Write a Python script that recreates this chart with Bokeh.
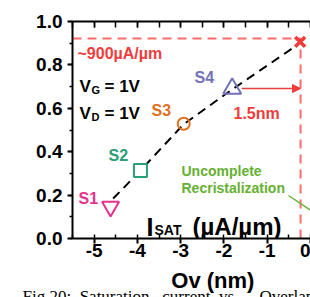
from bokeh.plotting import figure
from bokeh.models import (Label, Arrow, NormalHead, LinearAxis, SingleIntervalTicker,
                          Range1d, NumeralTickFormatter, CustomJSTickFormatter, Title)
from bokeh.embed import file_html
from bokeh.resources import INLINE

# ---- data ----
samples = ["S1", "S2", "S3", "S4"]
ov_nm = [-4.62, -3.93, -2.93, -1.81]
isat = [0.147, 0.313, 0.529, 0.691]
sample_colors = ["#e5338c", "#2a9e78", "#e0701e", "#7272bb"]
sample_markers = ["inverted_triangle", "square", "circle", "triangle"]
target_ov = [-0.24]
target_isat = [0.906]
trend_ov = [-4.56, -3.93, -2.94, -1.81, -0.42]
trend_isat = [0.184, 0.313, 0.525, 0.687, 0.876]
target_level = 0.922
target_ov_line = -0.23
x_ticks_interval = 1
y_ticks_interval = 0.2
NB = "\u00a0"
caption = ("Fig 20:" + NB * 2 + "Saturation" + NB * 3 + "current" + NB * 2 + "vs."
           + NB * 5 + "Overlap")

RED = "#f03c3c"
LRED = "#ff6b6b"
GREEN = "#66b032"
FONT = "Liberation Sans"

X0, X1 = -5.5, 0.0
# reference picture geometry, used to place annotations in data units
RX0, RX1, RY_TOP, RY_BOT = 72, 310, 21, 238


def px2x(px):
    return X0 + (px - RX0) * (X1 - X0) / (RX1 - RX0)


def px2y(py):
    return (RY_BOT - py) / (RY_BOT - RY_TOP)


p = figure(width=310, height=297, output_backend="svg", toolbar_location=None,
           x_range=Range1d(X0, X1), y_range=Range1d(0, 1.0),
           min_border_left=72, min_border_top=21, min_border_bottom=59,
           min_border_right=0)
p.outline_line_color = None
p.xgrid.visible = False
p.ygrid.visible = False
p.background_fill_color = "white"
p.border_fill_color = "white"

for ax in (p.xaxis[0], p.yaxis[0]):
    ax.axis_line_width = 2
    ax.major_tick_line_width = 2
    ax.minor_tick_line_width = 1.5
    ax.major_label_text_font = FONT
    ax.major_label_text_font_style = "bold"
    ax.major_label_text_font_size = "19px"
    ax.major_label_text_color = "black"

xa = p.xaxis[0]
xa.ticker = SingleIntervalTicker(interval=x_ticks_interval, num_minor_ticks=2)
xa.formatter = NumeralTickFormatter(format="0")
xa.major_tick_out = 5
xa.major_tick_in = 0
xa.minor_tick_out = 0
xa.minor_tick_in = 4
xa.major_label_standoff = 0
xa.axis_label = NB * 7 + "Ov (nm)"
xa.axis_label_text_font = FONT
xa.axis_label_text_font_style = "bold"
xa.axis_label_text_font_size = "22px"
xa.axis_label_text_color = "black"
xa.axis_label_standoff = 8

ya = p.yaxis[0]
ya.ticker = SingleIntervalTicker(interval=y_ticks_interval, num_minor_ticks=2)
ya.formatter = NumeralTickFormatter(format="0.0")
ya.major_tick_out = 5
ya.major_tick_in = 0
ya.minor_tick_out = 3
ya.minor_tick_in = 0
ya.major_label_standoff = 5

top = LinearAxis(ticker=SingleIntervalTicker(interval=x_ticks_interval, num_minor_ticks=2),
                 formatter=CustomJSTickFormatter(code="return ''"),
                 axis_line_width=2,
                 major_tick_in=6, major_tick_out=0, minor_tick_in=6, minor_tick_out=0,
                 major_tick_line_width=1.5, minor_tick_line_width=1.5)
p.add_layout(top, "above")

p.add_layout(Title(text=caption, align="left", offset=-50, standoff=-21,
                   text_font="Liberation Serif", text_font_style="normal",
                   text_font_size="17px", text_color="black"), "below")

# red target lines
p.line([X0, target_ov_line], [target_level, target_level], line_color=LRED,
       line_width=2, line_dash="9 6")
p.line([target_ov_line, target_ov_line], [0, target_level], line_color=LRED,
       line_width=2, line_dash="9 6")

# trend line
p.line(trend_ov, trend_isat, line_color="black", line_width=2, line_dash="9 6")

# green leader line
p.line([px2x(288), px2x(318)], [px2y(195), px2y(215)], line_color=GREEN, line_width=1.5)

# samples
for xv, yv, c, m in zip(ov_nm, isat, sample_colors, sample_markers):
    fill = "white" if m == "square" else None
    size = {"inverted_triangle": 17, "triangle": 18, "square": 13, "circle": 12}[m]
    p.scatter([xv], [yv], marker=m, size=size, line_color=c, line_width=2,
              fill_color=fill)

p.scatter(target_ov, target_isat, marker="x", size=14, line_color=RED, line_width=3.5)

# arrow 1.5nm
p.add_layout(Arrow(end=NormalHead(size=8, fill_color=RED, line_color=RED),
                   x_start=ov_nm[3] + 0.22, y_start=isat[3], x_end=target_ov_line,
                   y_end=isat[3], line_color=RED, line_width=1.5))


def lab(text, px, py, size, color="black", style="bold", align="left",
        baseline="middle", font=FONT):
    p.add_layout(Label(x=px2x(px), y=px2y(py), text=text, text_font=font,
                       text_font_size=f"{size}px", text_font_style=style,
                       text_color=color, text_align=align, text_baseline=baseline))


lab("~900\u00b5A/\u00b5m", 77, 53, 16, RED)
lab("V", 79, 86, 17, baseline="alphabetic")
lab("G", 91, 89, 11, baseline="alphabetic")
lab("= 1V", 104, 86, 17, baseline="alphabetic")
lab("V", 79, 113, 17, baseline="alphabetic")
lab("D", 91, 116, 11, baseline="alphabetic")
lab("= 1V", 104, 113, 17, baseline="alphabetic")

lab("S1", 78, 198, 16, sample_colors[0])
lab("S2", 108, 155, 16, sample_colors[1])
lab("S3", 151, 110, 16, sample_colors[2])
lab("S4", 194, 77, 16, sample_colors[3])
lab("1.5nm", 233, 113, 16, RED)

lab("Uncomplete", 181, 170, 14, GREEN)
lab("Recristalization", 181, 187, 14, GREEN)

lab("I", 146, 226, 25, baseline="alphabetic")
lab("SAT", 154, 229, 14, baseline="alphabetic")
lab("(\u00b5A/\u00b5m)", 192, 226, 24, baseline="alphabetic")

open("out.html", "w").write(file_html(p, INLINE))
